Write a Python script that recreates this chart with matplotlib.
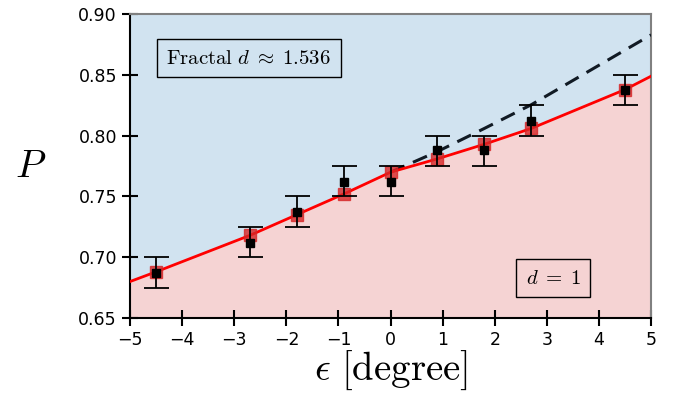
import numpy as np
import matplotlib
matplotlib.use("Agg")
import matplotlib.pyplot as plt

plt.rcParams['mathtext.fontset'] = 'cm'

# measured points (black squares) with error bars
eps = [-4.5, -2.7, -1.8, -0.9, 0.0, 0.9, 1.8, 2.7, 4.5]
p_meas = [0.687, 0.712, 0.737, 0.762, 0.762, 0.788, 0.788, 0.812, 0.838]
err_lo = [0.675, 0.700, 0.725, 0.750, 0.750, 0.775, 0.775, 0.800, 0.825]
err_hi = [0.700, 0.725, 0.750, 0.775, 0.775, 0.800, 0.800, 0.825, 0.850]

# d = 1 curve (red)
line_x = [-5.0, -4.5, -2.7, -1.8, -0.9, 0.0, 0.9, 1.8, 2.7, 4.5, 5.0]
line_y = [0.680, 0.688, 0.718, 0.735, 0.752, 0.770, 0.781, 0.793, 0.806, 0.838, 0.849]

# fractal curve (dashed), starts at 0
frac_x = [0.0, 0.9, 1.8, 2.7, 5.0]
frac_y = [0.770, 0.787, 0.806, 0.8255, 0.883]

fig = plt.figure(figsize=(6.74, 3.95), dpi=100)
ax = fig.add_axes([0.193, 0.195, 0.773, 0.769])

ax.set_xlim(-5, 5)
ax.set_ylim(0.65, 0.90)

ax.set_facecolor((0.82, 0.89, 0.94))
ax.fill_between(line_x, 0.65, line_y, color='#f5d3d3', zorder=1)

ax.plot(frac_x, frac_y, '--', color='#111a24', lw=2.2, dashes=(5, 3), zorder=3)
ax.plot(line_x, line_y, '-', color='red', lw=2, zorder=3)

# red markers on the curve at the measured epsilons
red_y = [line_y[line_x.index(e)] for e in eps]
ax.plot(eps, red_y, 's', color='#d62728', ms=8, alpha=0.8, zorder=4)

yerr = [np.array(p_meas) - np.array(err_lo), np.array(err_hi) - np.array(p_meas)]
ax.errorbar(eps, p_meas, yerr=yerr, fmt='s', color='black', ms=5.5,
            ecolor='black', elinewidth=1.3, capsize=9, capthick=1.3, zorder=5)

ax.set_xticks(np.arange(-5, 6, 1))
ax.set_yticks([0.65, 0.70, 0.75, 0.80, 0.85, 0.90])
ax.set_yticklabels(['0.65', '0.70', '0.75', '0.80', '0.85', '0.90'])
ax.tick_params(direction='inout', length=12, width=1.5, labelsize=12.5, color='black')

for s in ['top', 'right']:
    ax.spines[s].set_color('#808080')
    ax.spines[s].set_linewidth(1.5)
for s in ['left', 'bottom']:
    ax.spines[s].set_color('black')
    ax.spines[s].set_linewidth(1.5)

ax.set_xlabel(r'$\epsilon\ [\mathrm{degree}]$', fontsize=28, labelpad=0)
ax.set_ylabel(r'$P$', fontsize=28, rotation=0, labelpad=34, va='center')

box = dict(boxstyle='square,pad=0.45', facecolor='none', edgecolor='black', lw=1)
ax.text(-2.72, 0.864, r'$\mathrm{Fractal}\ d\;\approx\;1.536$', fontsize=15,
        ha='center', va='center', bbox=box, zorder=6)
ax.text(3.12, 0.683, r'$d\;=\;1$', fontsize=15, ha='center', va='center',
        bbox=box, zorder=6)

fig.savefig('out.png', dpi=100)
